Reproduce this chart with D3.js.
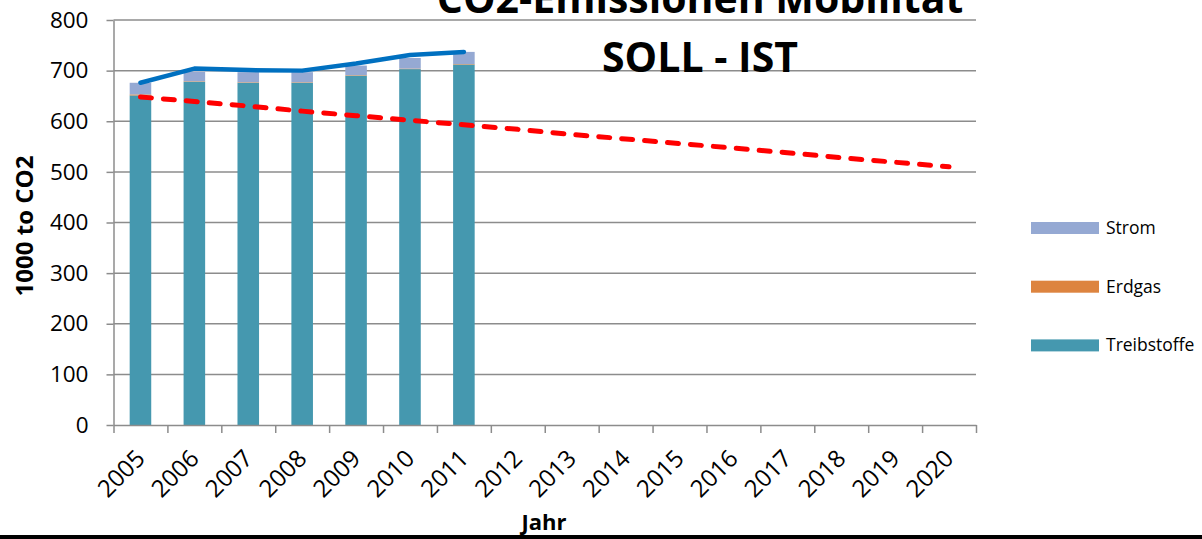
<!DOCTYPE html>
<html>
<head>
<meta charset="utf-8">
<script src="https://cdn.jsdelivr.net/npm/d3@7"></script>
<style>
  body { margin: 0; background: #fff; }
  svg { display: block; font-family: "Open Sans", "Noto Sans", sans-serif; }
</style>
</head>
<body>
<svg id="chart" width="1202" height="539"></svg>
<script>
// categories on the x axis (2005 - 2020)
var years = ["2005", "2006", "2007", "2008", "2009", "2010", "2011", "2012",
             "2013", "2014", "2015", "2016", "2017", "2018", "2019", "2020"];

// stacked bars, only 2005 - 2011 have values
var barYears = ["2005", "2006", "2007", "2008", "2009", "2010", "2011"];
var treibstoffe = [651, 678, 676, 676, 690, 703, 712];
var erdgas = [2, 1, 1, 1, 1, 1, 1];
var strom = [23, 19, 20, 20, 19, 21, 24];

// IST line (blue) and SOLL line (red, dashed)
var istValues = [676, 704, 701, 700, 714, 731, 737];
var sollValues = [648, 639, 630, 620, 611, 602, 593, 584, 574, 565, 556, 547, 538, 528, 519, 510];

var yTicks = [0, 100, 200, 300, 400, 500, 600, 700, 800];

var keys = ["Treibstoffe", "Erdgas", "Strom"];
var colors = { Treibstoffe: "#4598AF", Erdgas: "#DD843F", Strom: "#95A9D3" };

var svg = d3.select("#chart");

// plot area (window.top is taken, so these get a prefix)
var plotLeft = 113.5, plotRight = 976, plotTop = 20, plotBottom = 425;

var x = d3.scaleBand()
  .domain(years)
  .range([plotLeft, plotRight])
  .paddingInner(0.6)
  .paddingOuter(0.3);

// separate scale for the tick marks between the categories
var xEdge = d3.scaleLinear().domain([0, years.length]).range([plotLeft, plotRight]);

var y = d3.scaleLinear().domain([0, 800]).range([plotBottom, plotTop]);

function cx(year) { return x(year) + x.bandwidth() / 2; }

// gridlines
svg.append("g")
  .selectAll("line")
  .data(yTicks.slice(1))
  .enter()
  .append("line")
  .attr("x1", plotLeft)
  .attr("x2", plotRight)
  .attr("y1", function(d) { return y(d); })
  .attr("y2", function(d) { return y(d); })
  .attr("stroke", "#8c8c8c")
  .attr("stroke-width", 1.5);

// stacked bars
var rows = barYears.map(function(yr, i) {
  return { year: yr, Treibstoffe: treibstoffe[i], Erdgas: erdgas[i], Strom: strom[i] };
});
var stacked = d3.stack().keys(keys)(rows);

svg.append("g")
  .selectAll("g")
  .data(stacked)
  .enter()
  .append("g")
  .attr("fill", function(d) { return colors[d.key]; })
  .selectAll("rect")
  .data(function(d) { return d; })
  .enter()
  .append("rect")
  .attr("x", function(d) { return x(d.data.year); })
  .attr("width", x.bandwidth())
  .attr("y", function(d) { return y(d[1]); })
  .attr("height", function(d) { return y(d[0]) - y(d[1]); });

// SOLL line
var line = d3.line()
  .x(function(d, i) { return cx(years[i]); })
  .y(function(d) { return y(d); });

svg.append("path")
  .datum(sollValues)
  .attr("d", line)
  .attr("fill", "none")
  .attr("stroke", "#FF0000")
  .attr("stroke-width", 5)
  .attr("stroke-linecap", "round")
  .attr("stroke-dasharray", "11,12");

// IST line
svg.append("path")
  .datum(istValues)
  .attr("d", line)
  .attr("fill", "none")
  .attr("stroke", "#0070C0")
  .attr("stroke-width", 4.5)
  .attr("stroke-linecap", "round")
  .attr("stroke-linejoin", "round");

// y axis
var yAxis = svg.append("g")
  .attr("transform", "translate(" + plotLeft + ",0)")
  .call(d3.axisLeft(y).tickValues(yTicks).tickSize(7).tickPadding(18).tickSizeOuter(0));
yAxis.select(".domain").attr("stroke", "#8c8c8c").attr("stroke-width", 1.5);
yAxis.selectAll(".tick line").attr("stroke", "#8c8c8c").attr("stroke-width", 1.5);
yAxis.selectAll(".tick text")
  .attr("font-size", 22.5)
  .attr("font-family", "'Open Sans', sans-serif")
  .attr("fill", "#000");

// x axis: tick marks between categories
var xAxis = svg.append("g")
  .attr("transform", "translate(0," + plotBottom + ")")
  .call(d3.axisBottom(xEdge).tickValues(d3.range(years.length + 1)).tickSize(8).tickFormat("").tickSizeOuter(0));
xAxis.select(".domain").attr("stroke", "#8c8c8c").attr("stroke-width", 1.5);
xAxis.selectAll(".tick line").attr("stroke", "#8c8c8c").attr("stroke-width", 1.5);

// rotated year labels
svg.append("g")
  .selectAll("text")
  .data(years)
  .enter()
  .append("text")
  .attr("transform", function(d) { return "translate(" + (cx(d) + 6) + ",460) rotate(-45)"; })
  .attr("text-anchor", "end")
  .attr("font-size", 24)
  .attr("fill", "#000")
  .text(function(d) { return d; });

// axis titles
svg.append("text")
  .attr("transform", "translate(33,226) rotate(-90)")
  .attr("text-anchor", "middle")
  .attr("font-size", 24)
  .attr("font-weight", "bold")
  .text("1000 to CO2");

svg.append("text")
  .attr("x", 544)
  .attr("y", 530)
  .attr("text-anchor", "middle")
  .attr("font-size", 22)
  .attr("font-weight", "bold")
  .text("Jahr");

// chart title, partly cut off at the top
svg.append("text")
  .attr("x", 700)
  .attr("y", 13)
  .attr("text-anchor", "middle")
  .attr("font-size", 41)
  .attr("font-weight", "bold")
  .text("CO2-Emissionen Mobilität");

svg.append("text")
  .attr("x", 700)
  .attr("y", 72)
  .attr("text-anchor", "middle")
  .attr("font-size", 41)
  .attr("font-weight", "bold")
  .text("SOLL - IST");

// legend (reverse order of the stack)
var legend = svg.append("g")
  .selectAll("g")
  .data(keys.slice().reverse())
  .enter()
  .append("g")
  .attr("transform", function(d, i) { return "translate(1031," + (222 + i * 58.7) + ")"; });

legend.append("rect")
  .attr("width", 68)
  .attr("height", 12)
  .attr("fill", function(d) { return colors[d]; });

legend.append("text")
  .attr("x", 75)
  .attr("y", 12)
  .attr("font-size", 17.5)
  .attr("fill", "#000")
  .text(function(d) { return d; });

// black border at the bottom edge
svg.append("rect")
  .attr("x", 0)
  .attr("y", 535)
  .attr("width", 1202)
  .attr("height", 4)
  .attr("fill", "#000");
</script>
</body>
</html>
